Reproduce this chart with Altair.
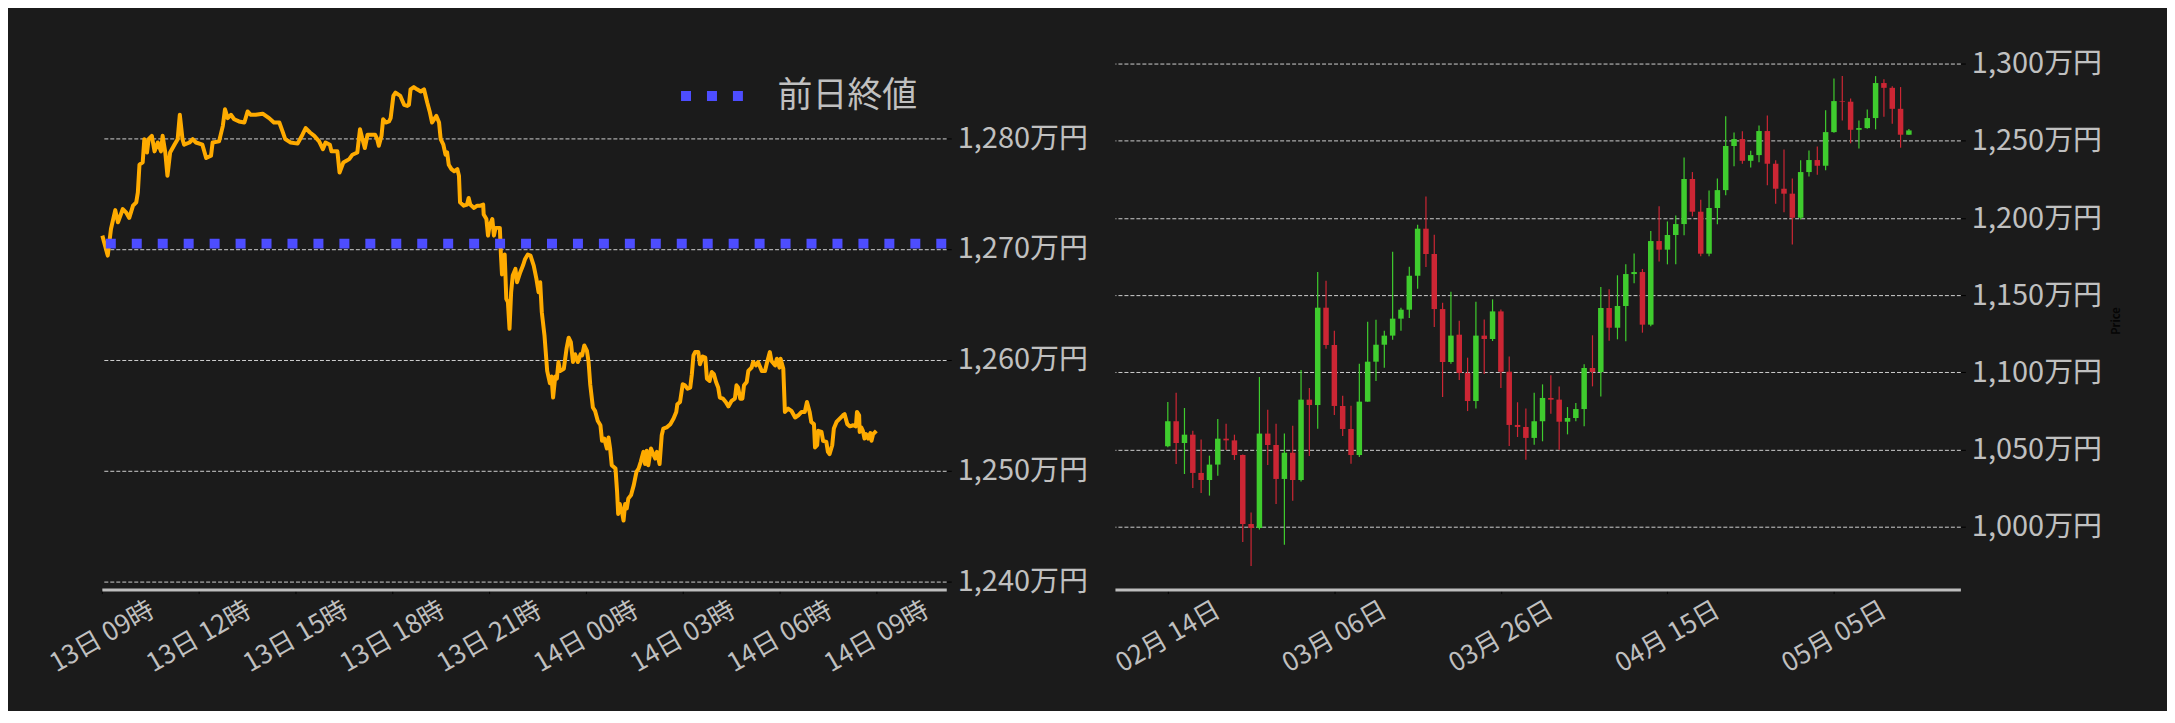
import altair as alt
import pandas as pd

# ---------------- Left: intraday price (minutes after 13日 09:00) ----------------
line_minutes = [
    1, 11, 17, 25, 30, 39, 45, 51, 58, 64, 67, 70, 76, 79, 84, 87, 93, 98, 104, 110,
    113, 118, 122, 127, 135, 141, 145, 150, 153, 163, 169, 175, 187, 194, 203, 206, 218, 225, 229, 234,
    240, 246, 255, 265, 271, 277, 286, 299, 311, 320, 330, 336, 341, 351, 364, 373, 379, 387, 395, 404,
    411, 416, 424, 427, 438, 442, 449, 460, 466, 475, 480, 484, 489, 494, 508,
    512, 515, 520, 523, 528, 534, 537, 542, 546, 555, 562, 568, 571, 574, 580, 586, 593, 599, 605, 610,
    614, 619, 622, 627, 630, 635, 639, 642, 645, 650, 655, 661, 664, 666, 673, 679, 682, 685, 692, 698,
    704, 709, 710, 715, 718, 721, 726, 729, 732, 740, 742, 744, 747, 749, 752, 755, 758, 761, 764, 769,
    772, 778, 783, 787, 792, 797, 803, 808, 812, 815, 818, 823, 828, 833, 836, 839, 843,
    846, 849, 852, 859, 864, 868, 872, 876, 880, 885, 890, 893, 897, 902, 905, 908, 913, 917, 922, 927,
    930, 934, 939, 942, 945, 948, 955, 958, 960, 963, 967, 970, 973, 976, 979, 984, 989, 994, 998, 1002,
    1007, 1010, 1013, 1016, 1021, 1026, 1029, 1032, 1037, 1041, 1044, 1050, 1057, 1063, 1068, 1070, 1075, 1080, 1084, 1089,
    1094, 1097, 1100, 1103, 1109, 1112, 1117, 1122, 1125, 1130, 1134, 1138, 1142, 1146, 1149, 1155, 1160, 1165, 1171, 1177,
    1180, 1183, 1187, 1191, 1194, 1199, 1202, 1208, 1211, 1216, 1220, 1227, 1233, 1237, 1242, 1245, 1252, 1255, 1260, 1262,
    1267, 1270, 1276, 1282, 1289, 1295, 1301, 1307, 1311, 1316, 1319, 1324, 1326, 1330, 1332, 1338, 1341, 1347, 1350, 1353,
    1358, 1361, 1366, 1372, 1378, 1381, 1386,
    1391, 1397, 1402, 1404, 1408, 1409, 1412, 1415, 1418, 1421, 1425, 1429, 1431, 1434, 1440,
]
line_prices = [
    1271.2, 1269.4, 1271.8, 1273.5, 1272.4, 1273.6, 1273.3, 1272.8, 1273.9, 1274.2,
    1275.1, 1277.6, 1277.8, 1279.9, 1278.7, 1279.9, 1280.2, 1278.8, 1279.6, 1278.8,
    1280.2, 1278.7, 1276.6, 1278.7, 1279.4, 1279.9, 1282.1, 1279.9, 1279.4, 1279.6,
    1279.9, 1279.6, 1279.4, 1278.2, 1278.4, 1279.6, 1279.7, 1281.1, 1282.6, 1281.8,
    1282.1, 1281.7, 1281.5, 1281.4, 1282.4, 1282.1, 1282.1, 1282.2, 1281.8, 1281.4,
    1281.4, 1280.6, 1279.9, 1279.6, 1279.5, 1280.3, 1280.9, 1280.5, 1280.2, 1279.7,
    1279.0, 1279.6, 1279.4, 1278.8, 1278.8, 1276.9, 1277.8, 1278.1, 1278.5, 1278.7,
    1280.8, 1280.0, 1279.1, 1280.3, 1280.3,
    1279.9, 1279.3, 1280.2, 1281.7, 1281.4, 1281.5, 1281.8, 1283.8, 1284.1, 1283.8,
    1283.0, 1282.9, 1283.0, 1284.4, 1284.6, 1284.4, 1284.2, 1284.4, 1283.2, 1282.3,
    1281.4, 1281.8, 1282.0, 1281.4, 1279.9, 1279.4, 1278.5, 1278.7, 1277.6, 1277.2,
    1277.0, 1277.2, 1276.6, 1274.2, 1273.9, 1274.0, 1274.6, 1274.0, 1273.7, 1273.9,
    1273.9, 1274.0, 1273.1, 1272.7, 1271.2, 1272.1, 1272.7, 1271.2, 1271.9, 1271.9,
    1269.5, 1267.7, 1267.9, 1269.5, 1265.5, 1265.2, 1262.8, 1266.1, 1267.6, 1268.2,
    1267.0, 1267.9, 1268.5, 1269.1, 1269.5, 1269.4, 1268.5, 1267.3, 1266.1, 1267.0,
    1264.3, 1262.2, 1259.0, 1257.9, 1258.5, 1256.6, 1258.5,
    1258.3, 1259.8, 1259.0, 1259.2, 1261.0, 1262.0, 1261.6, 1259.8, 1260.5, 1259.8,
    1260.5, 1260.4, 1261.3, 1260.8, 1259.8, 1257.8, 1255.7, 1255.4, 1254.5, 1254.1,
    1252.7, 1252.9, 1252.0, 1253.0, 1252.0, 1250.5, 1250.2, 1248.1, 1246.1, 1247.0,
    1246.3, 1245.5, 1247.0, 1246.6, 1247.5, 1247.8, 1248.7, 1249.9, 1250.2, 1250.8,
    1251.7, 1250.6, 1251.8, 1250.5, 1252.0, 1251.4, 1251.1, 1251.7, 1250.6, 1253.2,
    1253.8, 1253.9, 1254.2, 1254.7, 1255.3, 1256.0, 1256.2, 1257.8, 1257.7, 1257.4,
    1257.5, 1258.7, 1260.4, 1260.7, 1260.7, 1259.6, 1260.3, 1260.2, 1258.3, 1258.1,
    1258.9, 1258.7, 1258.0, 1257.5, 1256.6, 1256.5, 1256.2, 1255.8, 1256.3, 1256.5,
    1257.7, 1257.5, 1256.5, 1256.5, 1257.7, 1258.0, 1259.0, 1259.3, 1259.8, 1259.5,
    1259.8, 1259.0, 1259.0, 1259.8, 1260.7, 1259.9, 1259.5, 1260.1, 1259.3, 1260.1,
    1259.2, 1255.3, 1255.6, 1255.4, 1254.8, 1255.0, 1255.3, 1255.3, 1256.2, 1255.3,
    1254.4, 1254.2, 1252.1, 1252.3, 1253.6, 1253.5, 1252.7, 1252.6, 1251.7, 1251.5,
    1252.3, 1253.8, 1254.4, 1254.7, 1255.0, 1255.1, 1254.2,
    1254.0, 1254.1, 1254.0, 1255.3, 1255.0, 1253.5, 1253.9, 1253.6, 1252.9, 1253.3,
    1252.9, 1253.4, 1252.7, 1253.3, 1253.6,
]
prev_close = 1270.48
prev_label = "前日終値"
left_y_ticks = [1240, 1250, 1260, 1270, 1280]

# ---------------- Right: daily candles from 02月14日 ----------------
candle_opens = [
    1052.1, 1068.3, 1054.2, 1059.6, 1034.8, 1030.2, 1040.2, 1057.0, 1055.9, 1046.4,
    1001.7, 999.1, 1060.3, 1052.9, 1030.9, 1047.9, 1030.2, 1082.3, 1078.8, 1141.9,
    1117.7, 1078.2, 1063.3, 1046.4, 1081.0, 1106.9, 1117.9, 1123.8, 1134.8, 1140.6,
    1162.6, 1193.1, 1176.7, 1141.0, 1106.7, 1124.4, 1099.6, 1081.4, 1123.8, 1121.6,
    1139.5, 1100.4, 1065.9, 1064.6, 1057.5, 1068.3, 1083.4, 1082.3, 1068.0, 1070.4,
    1076.2, 1102.8, 1100.2, 1141.7, 1128.9, 1143.0, 1163.7, 1165.0, 1130.9, 1185.1,
    1179.5, 1189.0, 1196.1, 1225.3, 1204.1, 1176.9, 1206.5, 1218.1, 1246.7, 1251.2,
    1237.1, 1240.8, 1256.4, 1235.2, 1219.0, 1215.8, 1200.2, 1229.8, 1237.6, 1233.9,
    1255.7, 1275.8, 1275.4, 1257.2, 1258.3, 1264.8, 1287.5, 1284.4, 1270.8, 1254.0,
]
candle_closes = [
    1068.3, 1054.2, 1059.6, 1034.8, 1030.2, 1040.2, 1057.0, 1055.9, 1046.4, 1001.7,
    999.1, 1060.3, 1052.9, 1030.9, 1047.9, 1030.2, 1082.3, 1078.8, 1141.9, 1117.7,
    1078.2, 1063.3, 1046.4, 1081.0, 1106.9, 1117.9, 1123.8, 1134.8, 1140.6, 1162.6,
    1193.1, 1176.7, 1141.0, 1106.7, 1123.8, 1099.6, 1081.4, 1123.8, 1121.6, 1139.5,
    1100.4, 1065.9, 1064.6, 1057.5, 1068.3, 1083.4, 1082.3, 1068.0, 1070.4, 1076.2,
    1102.8, 1100.2, 1141.7, 1128.9, 1143.0, 1163.7, 1165.0, 1130.9, 1185.1, 1179.5,
    1189.0, 1196.1, 1225.3, 1204.1, 1176.9, 1206.5, 1218.1, 1246.7, 1251.2, 1237.1,
    1240.8, 1256.4, 1235.2, 1219.0, 1215.8, 1200.2, 1229.8, 1237.6, 1233.9, 1255.7,
    1275.8, 1275.4, 1257.2, 1258.3, 1264.8, 1287.5, 1284.4, 1270.8, 1254.0, 1256.8,
]
candle_highs = [
    1080.8, 1086.8, 1076.9, 1062.2, 1056.4, 1046.0, 1069.8, 1066.7, 1059.6, 1046.7,
    1009.1, 1097.0, 1075.8, 1066.7, 1060.3, 1065.4, 1101.5, 1089.8, 1165.0, 1159.4,
    1127.0, 1084.9, 1078.4, 1105.6, 1132.8, 1134.1, 1127.0, 1178.2, 1141.9, 1168.5,
    1195.7, 1214.0, 1189.2, 1145.1, 1152.3, 1133.5, 1109.5, 1145.8, 1134.3, 1147.3,
    1140.8, 1110.2, 1080.6, 1076.5, 1086.8, 1092.2, 1098.1, 1090.9, 1077.5, 1080.1,
    1105.2, 1124.0, 1155.3, 1153.8, 1162.9, 1170.0, 1177.1, 1167.0, 1191.6, 1207.6,
    1197.8, 1201.7, 1239.3, 1229.8, 1211.9, 1217.9, 1225.7, 1265.9, 1255.5, 1256.2,
    1243.6, 1260.0, 1266.5, 1237.4, 1244.5, 1225.7, 1237.4, 1243.8, 1246.4, 1269.8,
    1290.5, 1292.0, 1277.5, 1263.3, 1270.4, 1292.0, 1289.9, 1285.5, 1284.9, 1257.7,
]
candle_lows = [
    1051.4, 1040.6, 1034.1, 1025.1, 1021.8, 1020.1, 1033.0, 1049.7, 1043.2, 990.1,
    974.5, 998.1, 1040.0, 1014.7, 988.3, 1016.8, 1029.2, 1045.8, 1063.5, 1115.3,
    1072.4, 1058.7, 1040.8, 1045.1, 1081.0, 1094.4, 1103.0, 1121.2, 1127.0, 1135.2,
    1154.2, 1168.3, 1129.4, 1084.0, 1105.6, 1095.0, 1074.9, 1076.5, 1098.9, 1120.3,
    1089.8, 1052.3, 1058.1, 1043.4, 1053.1, 1055.3, 1073.2, 1049.9, 1059.8, 1068.3,
    1065.0, 1090.9, 1084.4, 1120.5, 1121.4, 1120.1, 1157.7, 1125.7, 1129.8, 1171.9,
    1170.0, 1170.0, 1188.8, 1201.1, 1175.2, 1175.2, 1195.9, 1214.7, 1233.5, 1235.2,
    1232.8, 1236.1, 1221.2, 1209.3, 1203.7, 1182.9, 1199.1, 1227.0, 1228.1, 1230.9,
    1255.3, 1263.3, 1248.4, 1245.1, 1257.9, 1257.5, 1265.7, 1261.1, 1245.6, 1254.0,
]
right_y_ticks = [1000, 1050, 1100, 1150, 1200, 1250, 1300]

# ---------------- styling ----------------
BG = "#1b1b1b"
TXT = "#c0c0c0"
GRID = "#cfcfcf"
ORANGE = "#ffab00"
BLUE = "#4d4dff"
GREEN = "#3fcc2e"
RED = "#cc2634"
FONT = "Noto Sans CJK JP"
XLAB = 26
YLAB = 29

yen_expr = "format(datum.value, ',') + '万円'"

# ---------------- left chart ----------------
base_time = pd.Timestamp("2025-05-13 09:00")
df_line = pd.DataFrame({
    "time": base_time + pd.to_timedelta(line_minutes, unit="m"),
    "price": line_prices,
})
df_prev = pd.DataFrame({"price": [prev_close], "label": [prev_label]})

left_x_vals = [alt.DateTime(year=2025, month=5, date=13, hours=h) for h in (9, 12, 15, 18, 21)] + \
              [alt.DateTime(year=2025, month=5, date=14, hours=h) for h in (0, 3, 6, 9)]

left_x = alt.X(
    "time:T",
    scale=alt.Scale(domain=[alt.DateTime(year=2025, month=5, date=13, hours=9),
                            alt.DateTime(year=2025, month=5, date=14, hours=11, minutes=10)]),
    axis=alt.Axis(values=left_x_vals, format="%d日 %H時", labelAngle=330,
                  labelAlign="center", labelBaseline="middle", labelPadding=43,
                  labelOverlap=False, labelBound=False, labelFlush=False,
                  tickSize=4, tickColor="#000000", domainColor="#bdbdbd", domainWidth=3,
                  grid=False, title=None, labelFontSize=XLAB, labelColor=TXT, labelFont=FONT),
)
left_y_scale = alt.Scale(domain=[1239.28, 1287.8], nice=False, zero=False)
left_y_axis = alt.Axis(orient="right", values=left_y_ticks, labelExpr=yen_expr,
                       grid=True, gridDash=[4, 2], gridColor=GRID, gridWidth=1,
                       domain=False, tickSize=5, tickColor="#000000", labelPadding=6,
                       labelOverlap=False,
                       labelFontSize=YLAB, labelColor=TXT, labelFont=FONT, title=None)

line = alt.Chart(df_line).mark_line(color=ORANGE, strokeWidth=4, strokeJoin="round").encode(
    x=left_x,
    y=alt.Y("price:Q", scale=left_y_scale, axis=left_y_axis),
)
prev = alt.Chart(df_prev).mark_rule(strokeWidth=10, strokeDash=[10, 16], strokeCap="butt").encode(
    y=alt.Y("price:Q"),
    color=alt.Color("label:N", scale=alt.Scale(domain=[prev_label], range=[BLUE]),
                    legend=alt.Legend(title=None, orient="none", legendX=575, legendY=8,
                                      symbolType="stroke", symbolStrokeWidth=10,
                                      symbolDash=[10, 16], symbolSize=3900,
                                      labelFontSize=35, labelColor=TXT, labelFont=FONT,
                                      labelOffset=29, padding=0)),
)
left = alt.layer(line, prev).properties(width=846, height=539)

# ---------------- right chart ----------------
df_c = pd.DataFrame({
    "date": pd.date_range("2025-02-14", periods=len(candle_opens), freq="D"),
    "open": candle_opens, "high": candle_highs, "low": candle_lows, "close": candle_closes,
})

right_x_vals = [alt.DateTime(year=2025, month=m, date=d) for m, d in ((2, 14), (3, 6), (3, 26), (4, 15), (5, 5))]
right_x = alt.X(
    "date:T",
    scale=alt.Scale(domain=[alt.DateTime(year=2025, month=2, date=8, hours=6),
                            alt.DateTime(year=2025, month=5, date=19, hours=14)]),
    axis=alt.Axis(values=right_x_vals, format="%m月 %d日", labelAngle=330,
                  labelAlign="center", labelBaseline="middle", labelPadding=43,
                  labelOverlap=False, labelBound=False, labelFlush=False,
                  tickSize=4, tickColor="#000000", domainColor="#bdbdbd", domainWidth=3,
                  grid=False, title=None, labelFontSize=XLAB, labelColor=TXT, labelFont=FONT),
)
right_y_scale = alt.Scale(domain=[959.2, 1307.9], nice=False, zero=False)
right_y_axis = alt.Axis(orient="right", values=right_y_ticks, labelExpr=yen_expr,
                        grid=True, gridDash=[4, 2], gridColor=GRID, gridWidth=1,
                        domain=False, tickSize=5, tickColor="#000000", labelPadding=6,
                        labelOverlap=False,
                        labelFontSize=YLAB, labelColor=TXT, labelFont=FONT,
                        title="Price", titleColor="#050505", titleFontSize=11,
                        titleFontWeight="bold", titleAngle=270, titlePadding=20, titleFont=FONT)

cbase = alt.Chart(df_c).encode(
    x=right_x,
    color=alt.condition("datum.close >= datum.open", alt.value(GREEN), alt.value(RED)),
)
wicks = cbase.mark_rule(strokeWidth=1.2).encode(
    y=alt.Y("low:Q", scale=right_y_scale, axis=right_y_axis), y2="high:Q")
bodies = cbase.mark_bar(size=5.5).encode(y=alt.Y("open:Q"), y2="close:Q")
right = alt.layer(wicks, bodies).properties(width=847, height=539)

chart = alt.hconcat(left, right, spacing=169, bounds="flush").properties(
    padding={"left": 37, "top": 41, "right": 45, "bottom": 33},
    background=BG,
).configure(font=FONT).configure_view(stroke=None)

chart.save("out.html", embed_options={"renderer": "svg", "actions": False})
